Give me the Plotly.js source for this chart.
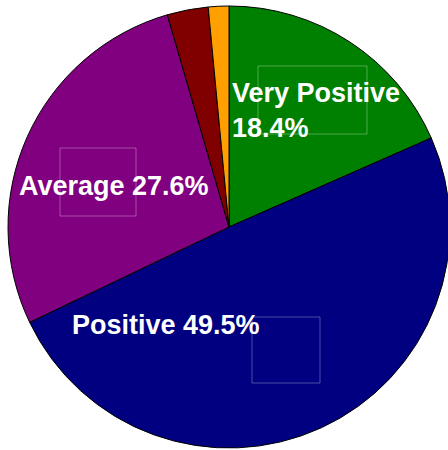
<!DOCTYPE html>
<html>
<head>
<meta charset="utf-8">
<script src="https://cdn.plot.ly/plotly-3.0.1.min.js"></script>
<style>
html,body{margin:0;padding:0;overflow:hidden;background:#fff;width:448px;height:450px;}
#chart{width:452px;height:450px;}
</style>
</head>
<body>
<div id="chart"></div>
<script>
const labels = ['Very Positive', 'Positive', 'Average', 'Negative', 'Very Negative'];
const values = [18.4, 49.5, 27.6, 3.0, 1.5];
const colors = ['#008000', '#000080', '#800080', '#800000', '#FFA000'];

const W = 452, H = 450;
const px = x => x / W;
const py = y => 1 - y / H;

function lbl(i, sep) { return labels[i] + sep + values[i].toFixed(1) + '%'; }

const annFont = {family: 'Liberation Sans, Arial, sans-serif', size: 27, color: '#ffffff', weight: 'bold'};

const annotations = [
  {text: lbl(0, '<br>'), x: px(230), y: py(110), xanchor: 'left', yanchor: 'middle', align: 'left'},
  {text: lbl(2, ' '), x: px(17), y: py(186), xanchor: 'left', yanchor: 'middle', align: 'left'},
  {text: lbl(1, ' '), x: px(70), y: py(325), xanchor: 'left', yanchor: 'middle', align: 'left'}
].map(a => Object.assign(a, {xref: 'paper', yref: 'paper', showarrow: false, font: annFont}));

const boxLine = {color: 'rgba(255,255,255,0.3)', width: 1};
const shapes = [
  [258, 66, 367, 134],
  [60, 148, 136, 216],
  [252, 317, 320, 383]
].map(b => ({type: 'rect', xref: 'paper', yref: 'paper', x0: px(b[0]), x1: px(b[2]), y0: py(b[3]), y1: py(b[1]), line: boxLine, fillcolor: 'rgba(0,0,0,0)'}));

const trace = {
  type: 'pie',
  labels: labels,
  values: values,
  sort: false,
  direction: 'clockwise',
  rotation: 0,
  textinfo: 'none',
  hoverinfo: 'skip',
  marker: {colors: colors, line: {color: '#000000', width: 1}},
  domain: {x: [px(8), px(450)], y: [py(448), py(6)]}
};

const layout = {
  width: W, height: H,
  margin: {l: 0, r: 0, t: 0, b: 0, pad: 0},
  paper_bgcolor: '#ffffff',
  showlegend: false,
  annotations: annotations,
  shapes: shapes
};

Plotly.newPlot('chart', [trace], layout, {staticPlot: true, displayModeBar: false});
</script>
</body>
</html>
